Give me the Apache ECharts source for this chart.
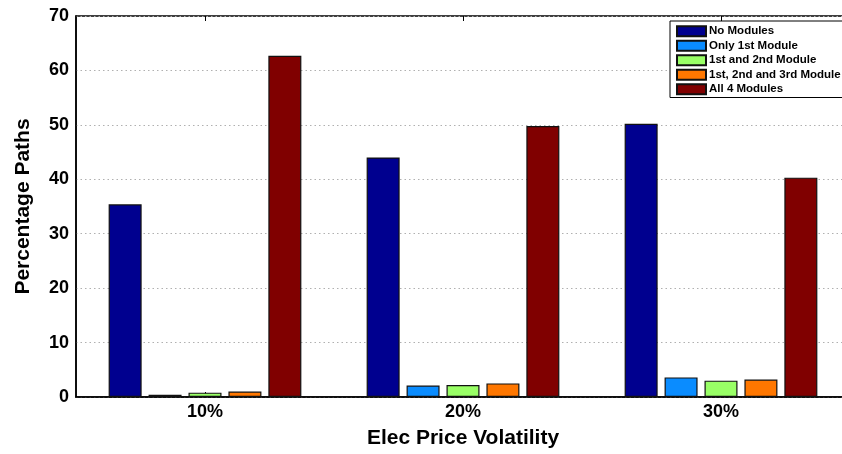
<!DOCTYPE html>
<html>
<head>
<meta charset="utf-8">
<script src="https://cdn.jsdelivr.net/npm/echarts@6/dist/echarts.min.js"></script>
<style>html,body{margin:0;padding:0;background:#fff;overflow:hidden;width:842px;height:454px}#c{width:850px;height:454px}</style>
</head>
<body>
<div id="c"></div>
<script>
const categories = ['10%', '20%', '30%'];
const seriesNames = ['No Modules', 'Only 1st Module', '1st and 2nd Module', '1st, 2nd and 3rd Module', 'All 4 Modules'];
const noModules = [35.4, 44.0, 50.2];
const only1st = [0.4, 2.1, 3.6];
const first2nd = [0.8, 2.2, 3.0];
const first2nd3rd = [1.0, 2.5, 3.2];
const all4 = [62.7, 49.8, 40.3];
const yTicks = [0, 10, 20, 30, 40, 50, 60, 70];

const colors = ['#00008F', '#0A8CFF', '#99FF66', '#FF7700', '#800000'];
const values = [noModules, only1st, first2nd, first2nd3rd, all4];
const font = 'Liberation Sans, Arial, Helvetica, sans-serif';

const chart = echarts.init(document.getElementById('c'), null, {renderer: 'canvas', width: 850, height: 454});
chart.setOption({
  animation: false,
  backgroundColor: '#fff',
  textStyle: {fontFamily: font},
  grid: {left: 76, top: 16, right: 0, bottom: 56, show: true, borderColor: '#000', borderWidth: 1.5, backgroundColor: 'transparent'},
  legend: {
    orient: 'vertical', left: 670, top: 21,
    icon: 'rect',
    itemWidth: 29, itemHeight: 10, itemGap: 2,
    padding: [4, 4, 2, 6],
    backgroundColor: '#fff', borderColor: '#000', borderWidth: 1,
    textStyle: {fontFamily: font, fontWeight: 'bold', fontSize: 11.5, lineHeight: 12.5, color: '#000', padding: [0, 0, 0, -2]},
    data: seriesNames
  },
  xAxis: [{
    type: 'category', data: categories,
    name: 'Elec Price Volatility', nameLocation: 'middle', nameGap: 31,
    nameTextStyle: {fontFamily: font, fontWeight: 'bold', fontSize: 21, color: '#000'},
    axisLine: {lineStyle: {color: '#000', width: 1.5}},
    axisTick: {show: true, inside: true, alignWithLabel: true, length: 5, lineStyle: {color: '#000'}},
    axisLabel: {fontFamily: font, fontWeight: 'bold', fontSize: 18, color: '#000', margin: 6}
  }, {
    type: 'category', data: categories, position: 'top',
    axisLine: {show: false},
    axisTick: {show: true, inside: true, alignWithLabel: true, length: 5, lineStyle: {color: '#000'}},
    axisLabel: {show: false}
  }],
  yAxis: {
    type: 'value', min: 0, max: 70, interval: 10,
    name: 'Percentage Paths', nameLocation: 'middle', nameGap: 42,
    nameTextStyle: {fontFamily: font, fontWeight: 'bold', fontSize: 21, color: '#000'},
    axisLine: {show: true, lineStyle: {color: '#000', width: 1.5}},
    axisTick: {show: false},
    axisLabel: {fontFamily: font, fontWeight: 'bold', fontSize: 18, color: '#000', margin: 7,
      formatter: v => yTicks.includes(v) ? String(v) : ''},
    splitLine: {show: true, lineStyle: {color: '#b0b0b0', type: [1.5, 3], width: 1}}
  },
  series: seriesNames.map((n, i) => ({
    name: n, type: 'bar', data: values[i],
    barWidth: 33, barGap: '21%',
    itemStyle: {color: colors[i], borderColor: '#111', borderWidth: 1.2}
  }))
});
</script>
</body>
</html>
